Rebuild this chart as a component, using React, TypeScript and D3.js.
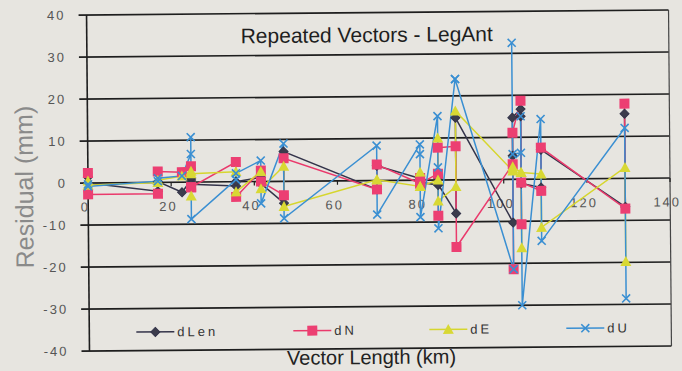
import React, { useEffect, useRef } from "react";
import * as d3 from "d3";

// vector lengths (km); repeated vectors share the same length
const lengths = [
  0, 0, 16.8, 16.8, 22.6, 24.8, 24.8, 24.8, 35.6, 35.6, 41.6, 41.6, 47.1, 47.1,
  69.5, 69.5, 79.9, 79.9, 79.9, 84.2, 84.2, 84.2, 88.5, 88.5, 102.2, 102.2,
  102.2, 104.2, 104.2, 104.2, 109, 109, 129.2, 129.2,
];
const dLen = [
  1.4, 0.0, -2.1, 0.2, -2.4, 0.5, 1.0, -0.5, -1.0, 0.0, 1.0, -0.5, -5.2, 7.1,
  -2.1, 3.5, 0.4, 1.0, -0.5, -1.2, 0.5, -1.0, -8.0, 14.8, -10.3, 5.6, 14.7,
  16.7, 15.0, -1.0, -2.0, 7.0, -6.8, 15.4,
];
const dN = [
  2.4, -2.7, -2.7, 2.6, 2.4, 3.8, -1.2, -1.2, 4.7, -3.6, 2.6, 0.0, -3.3, 5.5,
  -2.1, 3.8, -0.8, 0.5, -0.8, 1.5, -8.5, 7.7, 8.0, -16.0, 3.6, -21.4, 11.1,
  18.7, -10.7, -0.8, -2.8, 7.5, -7.2, 17.8,
];
const dE = [
  0.5, -0.5, 0.0, 0.5, 1.5, 2.6, -3.3, 2.0, 2.4, -2.4, 2.4, -1.7, 3.6, -6.0,
  0.2, 0.2, -1.5, 1.9, -1.5, 0.0, 10.0, -5.0, -1.6, 16.4, 2.0, 2.5, 3.0, 1.6,
  -16.3, 1.6, 1.2, -11.5, 2.6, -19.8,
];
const dU = [
  -0.3, -0.8, 0.3, 1.0, 1.5, 6.7, 10.7, -8.8, 0.5, 2.0, 5.0, -5.2, 9.0, -8.8,
  8.3, -8.1, 8.5, 6.2, -8.8, 15.2, 3.0, -11.5, 24.0, 24.0, -21.4, 32.5, 6.0,
  6.3, 15.0, -30.0, 14.3, -14.7, 12.0, -28.6,
];

const yTicks = [-40, -30, -20, -10, 0, 10, 20, 30, 40];
const xTicks = [0, 20, 40, 60, 80, 100, 120, 140];

const series = [
  { name: "dLen", values: dLen, color: "#34344a", fill: "#3c3c4c", marker: "diamond" },
  { name: "dN", values: dN, color: "#ea3a6c", fill: "#ec3f72", marker: "square" },
  { name: "dE", values: dE, color: "#d6d62e", fill: "#d8d834", marker: "triangle" },
  { name: "dU", values: dU, color: "#3a8fd2", fill: "none", marker: "x" },
];

const font = "'Liberation Sans', Arial, sans-serif";

function drawMarker(g: any, type: string, cx: number, cy: number, s: any) {
  if (type === "diamond") {
    g.append("path")
      .attr("d", `M${cx},${cy - 4.5}L${cx + 4.5},${cy}L${cx},${cy + 4.5}L${cx - 4.5},${cy}Z`)
      .attr("fill", s.fill)
      .attr("stroke", s.color)
      .attr("stroke-width", 1);
  } else if (type === "square") {
    g.append("rect")
      .attr("x", cx - 5)
      .attr("y", cy - 5)
      .attr("width", 10)
      .attr("height", 10)
      .attr("fill", s.fill);
  } else if (type === "triangle") {
    g.append("path")
      .attr("d", `M${cx},${cy - 5.5}L${cx + 5.5},${cy + 4.5}L${cx - 5.5},${cy + 4.5}Z`)
      .attr("fill", s.fill);
  } else {
    g.append("path")
      .attr("d", `M${cx - 4},${cy - 4}L${cx + 4},${cy + 4}M${cx + 4},${cy - 4}L${cx - 4},${cy + 4}`)
      .attr("stroke", s.color)
      .attr("stroke-width", 1.6)
      .attr("fill", "none");
  }
}

const App = () => {
  const svgRef = useRef<SVGSVGElement | null>(null);

  useEffect(() => {
    if (!svgRef.current) return;
    const svg = d3.select(svgRef.current);
    svg.selectAll("*").remove();

    svg.append("rect").attr("width", 682).attr("height", 371).attr("fill", "#e7e5e0");

    const x = d3.scaleLinear().domain([0, 140]).range([88, 670]);
    const y = d3.scaleLinear().domain([-40, 40]).range([348.5, 12.5]);

    // the scanned chart sits slightly tilted
    const g = svg.append("g").attr("transform", "rotate(-0.5,379,180)");

    // gridlines
    yTicks.forEach((t) => {
      g.append("line")
        .attr("x1", 80)
        .attr("x2", 670)
        .attr("y1", y(t))
        .attr("y2", y(t))
        .attr("stroke", "#1e1e1e")
        .attr("stroke-width", 1.6);
      g.append("text")
        .attr("x", 67)
        .attr("y", y(t) + 4.5)
        .attr("text-anchor", "end")
        .attr("font-family", font)
        .attr("font-size", 13)
        .attr("letter-spacing", 2)
        .attr("fill", "#555")
        .text(t);
    });

    g.append("line")
      .attr("x1", 88).attr("x2", 88)
      .attr("y1", y(40)).attr("y2", y(-40))
      .attr("stroke", "#1e1e1e").attr("stroke-width", 1.6);
    g.append("line")
      .attr("x1", 670).attr("x2", 670)
      .attr("y1", y(40)).attr("y2", y(-40))
      .attr("stroke", "#444").attr("stroke-width", 1.2);

    xTicks.forEach((t) => {
      if (t > 0) {
        g.append("line")
          .attr("x1", x(t)).attr("x2", x(t))
          .attr("y1", y(0)).attr("y2", y(0) + 4)
          .attr("stroke", "#1e1e1e").attr("stroke-width", 1.2);
      }
      g.append("text")
        .attr("x", x(t) - 3)
        .attr("y", y(0) + 28.5)
        .attr("text-anchor", "middle")
        .attr("font-family", font)
        .attr("font-size", 13)
        .attr("letter-spacing", 2)
        .attr("fill", "#555")
        .text(t);
    });

    // series
    series.forEach((s) => {
      const line = d3
        .line<number>()
        .x((d, i) => x(lengths[i]))
        .y((d) => y(d));
      g.append("path")
        .attr("d", line(s.values))
        .attr("fill", "none")
        .attr("stroke", s.color)
        .attr("stroke-width", 1.5);
    });
    series.forEach((s) => {
      const mg = g.append("g");
      s.values.forEach((v, i) => drawMarker(mg, s.marker, x(lengths[i]), y(v), s));
    });

    // legend
    const legendX = [135, 292, 428, 565];
    const ly = 330;
    series.forEach((s, i) => {
      const lx = legendX[i];
      g.append("line")
        .attr("x1", lx).attr("x2", lx + 38)
        .attr("y1", ly).attr("y2", ly)
        .attr("stroke", s.color).attr("stroke-width", 1.5);
      drawMarker(g, s.marker, lx + 19, ly, s);
      g.append("text")
        .attr("x", lx + 41)
        .attr("y", ly + 4.5)
        .attr("font-family", font)
        .attr("font-size", 13)
        .attr("letter-spacing", 3)
        .attr("fill", "#333")
        .text(s.name);
    });

    g.append("text")
      .attr("x", 368).attr("y", 42)
      .attr("text-anchor", "middle")
      .attr("font-family", font)
      .attr("font-size", 21)
      .attr("fill", "#1e1e1e")
      .text("Repeated Vectors - LegAnt");

    g.append("text")
      .attr("transform", "translate(33,184) rotate(-90)")
      .attr("text-anchor", "middle")
      .attr("font-family", font)
      .attr("font-size", 25)
      .attr("fill", "#8a8a8a")
      .text("Residual (mm)");

    g.append("text")
      .attr("x", 370).attr("y", 364)
      .attr("text-anchor", "middle")
      .attr("font-family", font)
      .attr("font-size", 20)
      .attr("fill", "#222")
      .text("Vector Length (km)");
  }, []);

  return (
    <svg
      ref={svgRef}
      width={682}
      height={371}
      style={{ position: "absolute", left: 0, top: 0 }}
    />
  );
};

export default App;
